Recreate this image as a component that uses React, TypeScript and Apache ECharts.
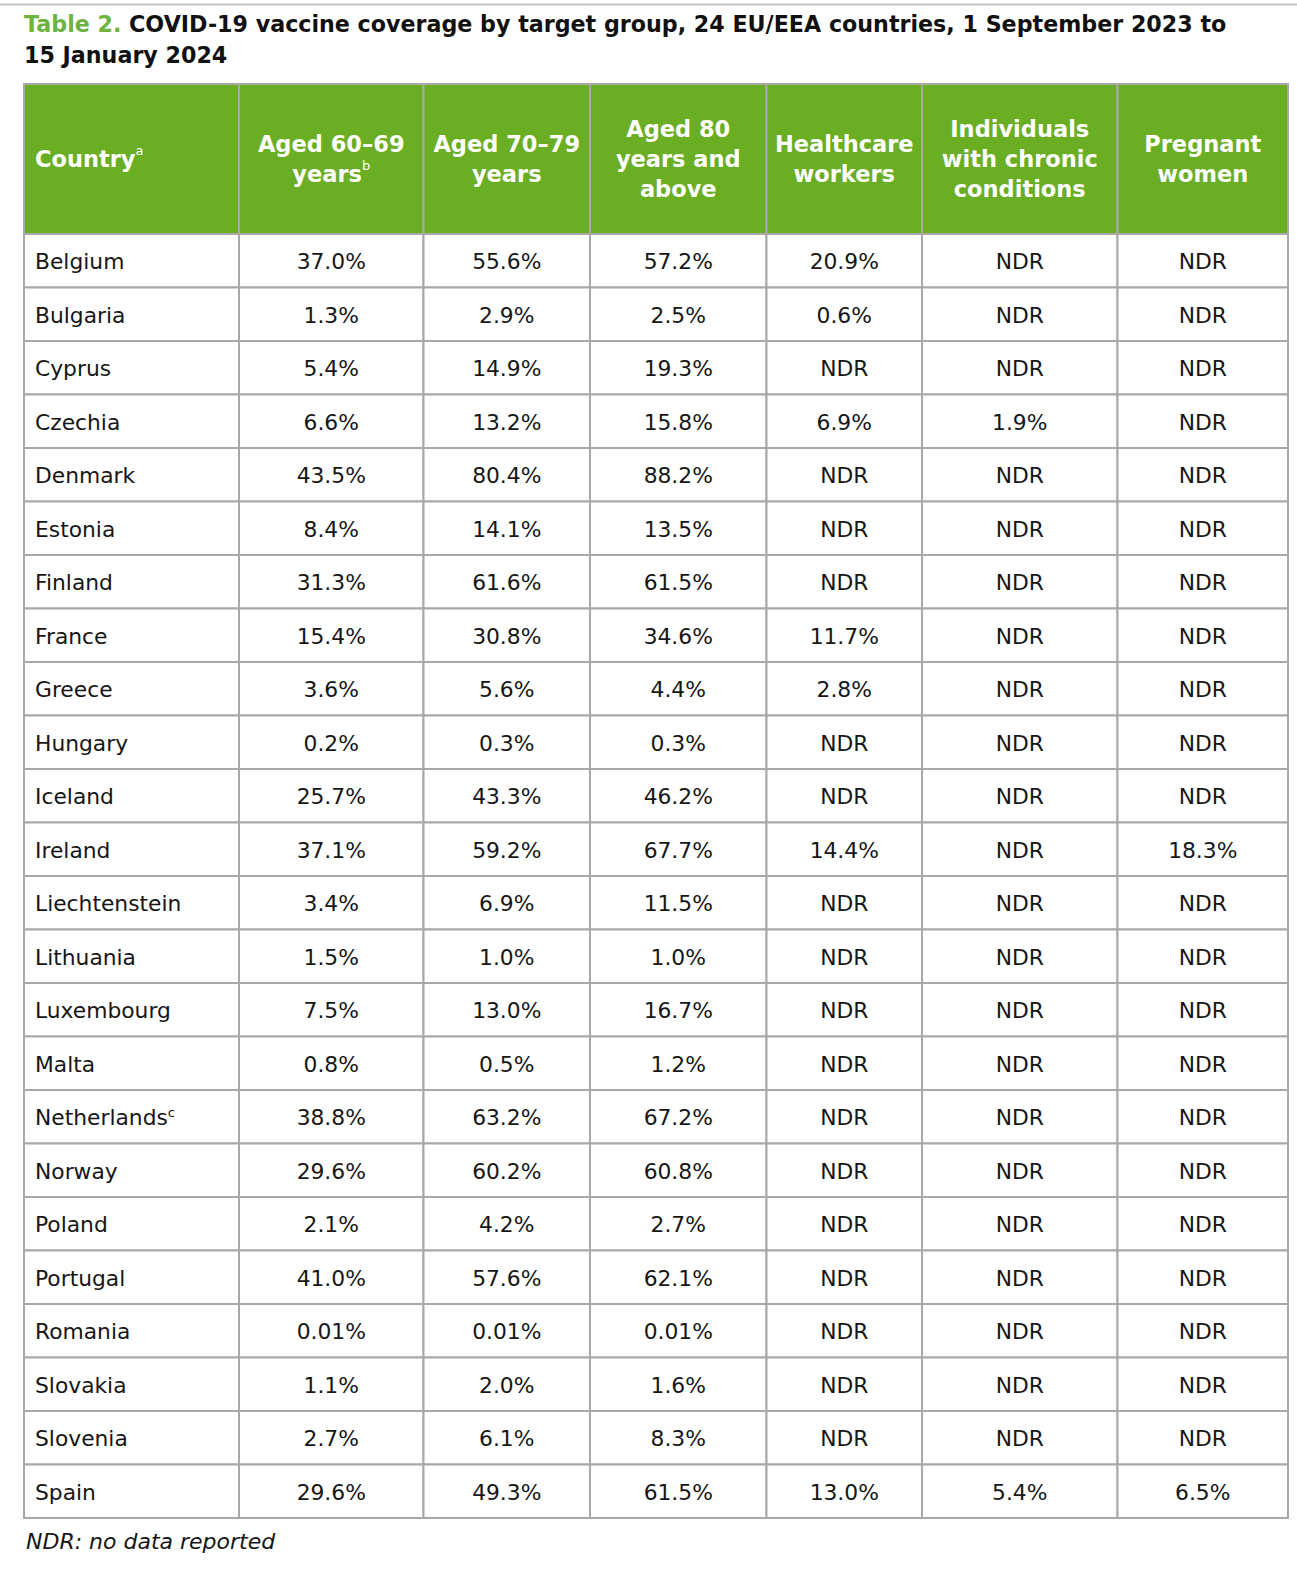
import React, { useEffect, useRef } from "react";
import * as echarts from "echarts";

// ---------- data ----------
const titleLabel = "Table 2.";
const titleText = "COVID-19 vaccine coverage by target group, 24 EU/EEA countries, 1 September 2023 to";
const titleText2 = "15 January 2024";
const footnote = "NDR: no data reported";

const headerLabels = [
  "Country{sup|a}",
  "Aged 60–69\nyears{sup|b}",
  "Aged 70–79\nyears",
  "Aged 80\nyears and\nabove",
  "Healthcare\nworkers",
  "Individuals\nwith chronic\nconditions",
  "Pregnant\nwomen",
];

const countries = [
  "Belgium", "Bulgaria", "Cyprus", "Czechia", "Denmark", "Estonia", "Finland", "France",
  "Greece", "Hungary", "Iceland", "Ireland", "Liechtenstein", "Lithuania", "Luxembourg",
  "Malta", "Netherlands", "Norway", "Poland", "Portugal", "Romania", "Slovakia", "Slovenia", "Spain",
];
const countryNotes: Record<string, string> = { Netherlands: "c" };

const aged6069 = [37.0, 1.3, 5.4, 6.6, 43.5, 8.4, 31.3, 15.4, 3.6, 0.2, 25.7, 37.1, 3.4, 1.5, 7.5, 0.8, 38.8, 29.6, 2.1, 41.0, 0.01, 1.1, 2.7, 29.6];
const aged7079 = [55.6, 2.9, 14.9, 13.2, 80.4, 14.1, 61.6, 30.8, 5.6, 0.3, 43.3, 59.2, 6.9, 1.0, 13.0, 0.5, 63.2, 60.2, 4.2, 57.6, 0.01, 2.0, 6.1, 49.3];
const aged80plus = [57.2, 2.5, 19.3, 15.8, 88.2, 13.5, 61.5, 34.6, 4.4, 0.3, 46.2, 67.7, 11.5, 1.0, 16.7, 1.2, 67.2, 60.8, 2.7, 62.1, 0.01, 1.6, 8.3, 61.5];
const healthcareWorkers = [20.9, 0.6, null, 6.9, null, null, null, 11.7, 2.8, null, null, 14.4, null, null, null, null, null, null, null, null, null, null, null, 13.0];
const chronicConditions = [null, null, null, 1.9, null, null, null, null, null, null, null, null, null, null, null, null, null, null, null, null, null, null, null, 5.4];
const pregnantWomen = [null, null, null, null, null, null, null, null, null, null, null, 18.3, null, null, null, null, null, null, null, null, null, null, null, 6.5];

const valueColumns: (number | null)[][] = [aged6069, aged7079, aged80plus, healthcareWorkers, chronicConditions, pregnantWomen];

// ---------- layout / style ----------
const COL_WIDTHS = [215, 184.5, 166.5, 176.5, 155.5, 195.5, 170.5];
const COL_STARTS = COL_WIDTHS.map((_, i) => COL_WIDTHS.slice(0, i).reduce((a, b) => a + b, 0));
const TABLE_W = COL_WIDTHS.reduce((a, b) => a + b, 0);
const TABLE_LEFT = 24;
const HEADER_TOP = 84;
const HEADER_H = 150;
const ROW_H = 53.5;
const GREEN = "#6aae24";
const BORDER = "#a8a8a8";
const TEXT = "#161616";
const FONT = "'DejaVu Sans', Verdana, sans-serif";

function fmt(v: number | null): string {
  if (v === null || v === undefined) return "NDR";
  return (v < 0.1 ? v.toFixed(2) : v.toFixed(1)) + "%";
}

type Cell = { col: number; row: number; text: string };

const headerCells: Cell[] = headerLabels.map((t, i) => ({ col: i, row: 0, text: t }));
const bodyCells: Cell[] = [];
countries.forEach((name, r) => {
  const note = countryNotes[name];
  bodyCells.push({ col: 0, row: r, text: note ? `${name}{sup|${note}}` : name });
  valueColumns.forEach((col, c) => {
    bodyCells.push({ col: c + 1, row: r, text: fmt(col[r]) });
  });
});

function makeRenderer(cells: Cell[], header: boolean) {
  return (params: any, api: any) => {
    const cell = cells[params.dataIndex];
    const c = cell.col;
    const yc = api.coord([0, cell.row])[1];
    const bandH = api.size([0, 1])[1];
    const x0 = api.coord([COL_STARTS[c], cell.row])[0];
    const x1 = api.coord([COL_STARTS[c] + COL_WIDTHS[c], cell.row])[0];
    const left = c === 0;
    return {
      type: "group",
      children: [
        {
          type: "rect",
          shape: { x: x0, y: yc - bandH / 2, width: x1 - x0, height: bandH },
          style: { fill: header ? GREEN : "#ffffff", stroke: BORDER, lineWidth: 2 },
        },
        {
          type: "text",
          style: {
            text: cell.text,
            x: left ? x0 + 11 : (x0 + x1) / 2,
            y: yc + (header ? 0 : 1),
            align: left ? "left" : "center",
            verticalAlign: "middle",
            fill: header ? "#ffffff" : TEXT,
            fontFamily: FONT,
            fontSize: header ? 22.5 : 21.8,
            fontWeight: header ? "bold" : "normal",
            lineHeight: header ? 30 : 24,
            rich: {
              sup: {
                fontFamily: FONT,
                fontSize: 13,
                fontWeight: "normal",
                fill: header ? "#ffffff" : TEXT,
                lineHeight: header ? 20 : 14,
                verticalAlign: "top",
              },
            },
          },
        },
      ],
    };
  };
}

export default function App() {
  const ref = useRef<HTMLDivElement>(null);
  useEffect(() => {
    if (!ref.current) return;
    const chart = echarts.init(ref.current, undefined, { renderer: "svg" });
    const option: any = {
      animation: false,
      backgroundColor: "#ffffff",
      grid: [
        { left: TABLE_LEFT, top: HEADER_TOP, width: TABLE_W, height: HEADER_H },
        { left: TABLE_LEFT, top: HEADER_TOP + HEADER_H, width: TABLE_W, height: ROW_H * countries.length },
      ],
      xAxis: [
        { type: "value", gridIndex: 0, min: 0, max: TABLE_W, show: false },
        { type: "value", gridIndex: 1, min: 0, max: TABLE_W, show: false },
      ],
      yAxis: [
        { type: "category", gridIndex: 0, data: ["header"], show: false },
        { type: "category", gridIndex: 1, data: countries, inverse: true, show: false },
      ],
      series: [
        {
          type: "custom",
          xAxisIndex: 1,
          yAxisIndex: 1,
          silent: true,
          clip: false,
          data: bodyCells.map((cl) => [COL_STARTS[cl.col] + COL_WIDTHS[cl.col] / 2, cl.row]),
          renderItem: makeRenderer(bodyCells, false),
        },
        {
          type: "custom",
          xAxisIndex: 0,
          yAxisIndex: 0,
          silent: true,
          clip: false,
          data: headerCells.map((cl) => [COL_STARTS[cl.col] + COL_WIDTHS[cl.col] / 2, cl.row]),
          renderItem: makeRenderer(headerCells, true),
        },
      ],
      graphic: [
        {
          type: "line",
          shape: { x1: 0, y1: 4.5, x2: 1297, y2: 4.5 },
          style: { stroke: "#c4c4c4", lineWidth: 2 },
          silent: true,
        },
        {
          type: "text",
          left: 24,
          top: 8,
          style: {
            text: `{g|${titleLabel}} ${titleText}\n${titleText2}`,
            fill: "#111111",
            fontFamily: FONT,
            fontSize: 22.2,
            fontWeight: "bold",
            lineHeight: 31,
            rich: {
              g: { fill: "#6db33f", fontFamily: FONT, fontSize: 22.2, fontWeight: "bold", lineHeight: 31 },
            },
          },
        },
        {
          type: "text",
          left: 26,
          top: 1530,
          style: {
            text: footnote,
            fill: TEXT,
            fontFamily: FONT,
            fontSize: 22,
            fontStyle: "italic",
          },
        },
      ],
    };
    chart.setOption(option);
    return () => chart.dispose();
  }, []);
  return (
    <div
      ref={ref}
      style={{ position: "absolute", left: 0, top: 0, width: 1297, height: 1581, background: "#fff" }}
    />
  );
}
